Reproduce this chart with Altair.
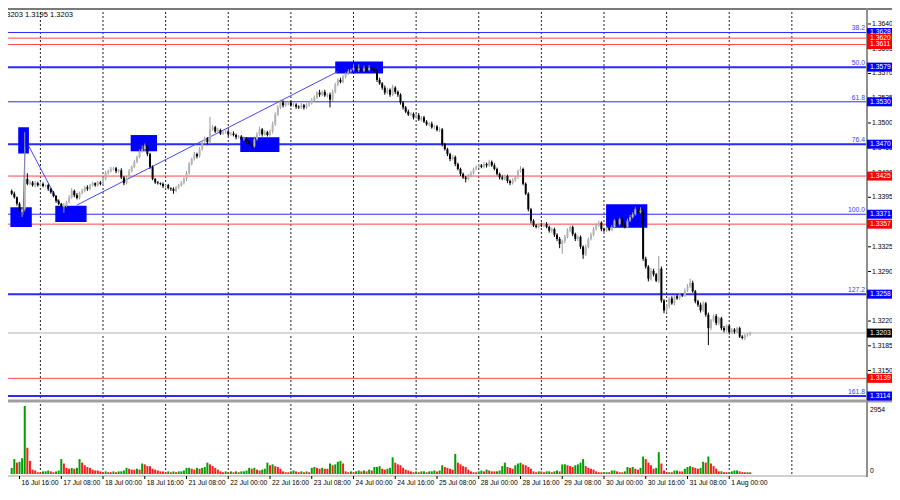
import altair as alt
import pandas as pd

# ---------------- data ----------------
FIRST_INDEX = -11          # bar index of first visible H1 bar (0 = 17 Jul 00:00)
FIRST_OPEN = 1.3404
CLOSE = [
    1.3400, 1.3395, 1.3386, 1.3374, 1.3378, 1.3421, 1.3414, 1.3416, 1.3412, 1.3415, 1.3412, 1.3414,
    1.3411, 1.3412, 1.3407, 1.3402, 1.3397, 1.3390, 1.3386, 1.3381, 1.3384, 1.3388, 1.3395, 1.3404,
    1.3398, 1.3394, 1.3401, 1.3404, 1.3409, 1.3407, 1.3412, 1.3415, 1.3412, 1.3416, 1.3414, 1.3421,
    1.3429, 1.3432, 1.3435, 1.3436, 1.3432, 1.3433, 1.3423, 1.3415, 1.3423, 1.3432, 1.3438, 1.3445,
    1.3452, 1.3460, 1.3463, 1.3468, 1.3456, 1.3438, 1.3421, 1.3416, 1.3415, 1.3414, 1.3411, 1.3412,
    1.3408, 1.3407, 1.3404, 1.3409, 1.3412, 1.3415, 1.3421, 1.3429, 1.3442, 1.3449, 1.3456, 1.3453,
    1.3463, 1.3474, 1.3478, 1.3473, 1.3491, 1.3494, 1.3488, 1.3490, 1.3485, 1.3487, 1.3488, 1.3484,
    1.3485, 1.3483, 1.3480, 1.3481, 1.3477, 1.3478, 1.3474, 1.3470, 1.3467, 1.3477, 1.3484, 1.3491,
    1.3484, 1.3487, 1.3483, 1.3488, 1.3498, 1.3512, 1.3522, 1.3529, 1.3525, 1.3528, 1.3529, 1.3525,
    1.3526, 1.3523, 1.3522, 1.3525, 1.3522, 1.3526, 1.3528, 1.3532, 1.3536, 1.3543, 1.3540, 1.3544,
    1.3539, 1.3540, 1.3533, 1.3544, 1.3554, 1.3561, 1.3558, 1.3565, 1.3570, 1.3573, 1.3575, 1.3578,
    1.3575, 1.3577, 1.3574, 1.3577, 1.3575, 1.3578, 1.3575, 1.3574, 1.3561, 1.3556, 1.3550, 1.3543,
    1.3547, 1.3540, 1.3550, 1.3544, 1.3540, 1.3529, 1.3522, 1.3516, 1.3512, 1.3513, 1.3508, 1.3511,
    1.3505, 1.3508, 1.3502, 1.3498, 1.3499, 1.3494, 1.3495, 1.3490, 1.3491, 1.3470, 1.3463, 1.3456,
    1.3449, 1.3452, 1.3442, 1.3435, 1.3428, 1.3423, 1.3421, 1.3425, 1.3429, 1.3435, 1.3438, 1.3440,
    1.3438, 1.3442, 1.3440, 1.3445, 1.3440, 1.3435, 1.3428, 1.3423, 1.3421, 1.3425, 1.3418, 1.3415,
    1.3419, 1.3423, 1.3432, 1.3435, 1.3414, 1.3400, 1.3378, 1.3362, 1.3355, 1.3353, 1.3356, 1.3355,
    1.3357, 1.3353, 1.3348, 1.3350, 1.3342, 1.3336, 1.3329, 1.3333, 1.3339, 1.3348, 1.3353, 1.3343,
    1.3336, 1.3339, 1.3325, 1.3314, 1.3325, 1.3336, 1.3342, 1.3350, 1.3355, 1.3359, 1.3350, 1.3348,
    1.3352, 1.3349, 1.3353, 1.3362, 1.3357, 1.3364, 1.3356, 1.3353, 1.3362, 1.3367, 1.3371, 1.3378,
    1.3374, 1.3376, 1.3308, 1.3297, 1.3280, 1.3291, 1.3286, 1.3277, 1.3294, 1.3249, 1.3235, 1.3241,
    1.3252, 1.3245, 1.3255, 1.3252, 1.3257, 1.3256, 1.3263, 1.3269, 1.3274, 1.3262, 1.3248, 1.3243,
    1.3235, 1.3245, 1.3229, 1.3210, 1.3221, 1.3227, 1.3217, 1.3224, 1.3210, 1.3207, 1.3213, 1.3204,
    1.3208, 1.3205, 1.3210, 1.3198, 1.3196, 1.3200, 1.3201, 1.3203,
]
UP_PIPS = [
    2, 3, 1, 2, 3, 66, 8, 3, 2, 3, 2, 2,
    2, 1, 2, 1, 2, 1, 2, 1, 3, 2, 3, 4,
    2, 3, 2, 3, 2, 3, 2, 2, 1, 2, 2, 3,
    3, 2, 3, 2, 2, 2, 3, 2, 2, 3, 2, 3,
    2, 3, 5, 3, 2, 2, 2, 1, 2, 1, 2, 1,
    2, 1, 2, 2, 2, 3, 2, 3, 3, 2, 3, 2,
    3, 2, 3, 2, 18, 3, 2, 3, 2, 2, 3, 2,
    2, 3, 2, 2, 2, 3, 2, 2, 3, 4, 3, 4,
    2, 3, 2, 3, 4, 3, 3, 4, 3, 2, 2, 2,
    3, 2, 2, 3, 2, 2, 2, 3, 3, 2, 4, 2,
    3, 2, 3, 3, 3, 2, 3, 3, 2, 3, 2, 5,
    3, 6, 2, 4, 3, 4, 3, 3, 2, 3, 2, 3,
    3, 2, 4, 2, 2, 2, 2, 2, 3, 2, 2, 2,
    3, 2, 2, 2, 2, 3, 2, 2, 3, 2, 2, 2,
    2, 3, 2, 2, 2, 2, 2, 3, 3, 2, 2, 2,
    2, 3, 2, 3, 2, 3, 2, 2, 3, 2, 2, 2,
    3, 2, 2, 4, 2, 2, 2, 2, 2, 2, 2, 3,
    2, 3, 2, 2, 2, 2, 3, 2, 3, 3, 2, 2,
    2, 2, 2, 2, 3, 2, 3, 3, 3, 3, 2, 2,
    2, 3, 3, 2, 3, 2, 3, 2, 3, 3, 3, 3,
    2, 5, 2, 3, 2, 4, 3, 2, 18, 3, 2, 3,
    2, 3, 2, 3, 3, 2, 3, 3, 6, 3, 2, 2,
    3, 3, 2, 3, 2, 2, 3, 2, 2, 3, 2, 2,
    2, 2, 2, 2, 2, 2, 2, 2,
]
DN_PIPS = [
    2, 2, 3, 5, 7, 3, 2, 2, 2, 3, 2, 2,
    2, 2, 3, 2, 2, 3, 2, 2, 8, 3, 2, 2,
    3, 2, 2, 2, 2, 3, 2, 2, 2, 2, 2, 2,
    2, 2, 2, 2, 3, 2, 2, 3, 2, 2, 2, 2,
    2, 2, 2, 3, 3, 3, 2, 2, 2, 2, 3, 2,
    2, 3, 4, 2, 2, 2, 2, 3, 2, 2, 2, 3,
    2, 2, 2, 3, 2, 2, 2, 3, 2, 2, 2, 3,
    2, 2, 3, 2, 2, 2, 3, 2, 4, 2, 2, 2,
    3, 2, 2, 2, 3, 2, 2, 2, 3, 2, 3, 2,
    2, 3, 2, 2, 3, 2, 3, 2, 2, 2, 3, 2,
    2, 3, 11, 2, 2, 2, 2, 2, 2, 2, 2, 2,
    2, 3, 2, 2, 2, 2, 2, 2, 3, 2, 3, 3,
    2, 3, 2, 3, 3, 3, 3, 2, 2, 2, 3, 2,
    2, 3, 2, 2, 3, 2, 3, 2, 3, 3, 2, 3,
    3, 2, 3, 2, 3, 2, 5, 2, 2, 2, 2, 2,
    2, 2, 3, 2, 2, 2, 2, 3, 2, 2, 3, 3,
    2, 2, 2, 2, 2, 2, 3, 4, 2, 2, 2, 2,
    2, 2, 3, 3, 3, 3, 6, 14, 3, 2, 2, 3,
    3, 3, 3, 6, 2, 2, 2, 2, 2, 2, 3, 2,
    2, 2, 2, 2, 2, 2, 3, 2, 2, 2, 2, 2,
    2, 2, 3, 3, 4, 3, 3, 2, 3, 3, 4, 3,
    3, 2, 3, 2, 2, 2, 2, 2, 2, 2, 3, 3,
    3, 2, 3, 24, 3, 2, 3, 3, 3, 3, 2, 3,
    2, 3, 2, 2, 2, 3, 2, 2,
]
VOLUME = [
    265, 646, 493, 531, 684, 2954, 1140, 570, 190, 152, 76,
    72, 113, 118, 152, 114, 76, 110, 150, 646, 456, 266, 229, 265, 228, 270, 647, 494, 380, 304, 266, 190, 152, 150, 114,
    76, 114, 78, 75, 112, 76, 113, 115, 152, 266, 228, 190, 188, 229, 190, 456, 418, 342, 340, 228, 190, 152, 114, 112,
    76, 114, 76, 113, 77, 112, 115, 152, 266, 268, 228, 190, 266, 229, 267, 304, 494, 418, 342, 266, 190, 114, 76, 113,
    76, 114, 75, 113, 76, 114, 116, 152, 266, 228, 266, 190, 152, 190, 228, 494, 380, 418, 342, 304, 228, 114, 76, 74,
    114, 152, 113, 76, 114, 76, 113, 76, 266, 304, 266, 228, 266, 228, 226, 456, 380, 418, 532, 570, 456, 114, 76, 114,
    76, 114, 152, 113, 152, 114, 190, 152, 304, 306, 342, 228, 190, 228, 266, 722, 494, 418, 380, 266, 190, 152, 114, 76,
    114, 76, 114, 116, 76, 114, 116, 152, 114, 152, 380, 304, 266, 228, 190, 874, 494, 418, 342, 304, 190, 114, 76, 74,
    114, 152, 114, 190, 152, 114, 112, 116, 152, 342, 494, 304, 266, 228, 380, 456, 494, 418, 380, 304, 228, 114, 76, 114,
    114, 76, 114, 116, 76, 114, 152, 114, 418, 420, 380, 342, 304, 380, 418, 494, 646, 342, 266, 228, 190, 114, 76, 74,
    76, 78, 75, 152, 154, 114, 76, 74, 114, 304, 266, 304, 228, 190, 266, 760, 646, 494, 380, 228, 266, 950, 456, 152,
    76, 78, 74, 152, 154, 114, 112, 228, 304, 342, 304, 266, 228, 266, 532, 494, 760, 456, 342, 228, 114, 116, 76, 74,
    76, 114, 152, 154, 114, 76, 74, 78, 72,
]
VOL_MAX = 2954

DAY_STARTS = [0, 24, 48, 72, 96, 120, 144, 168, 192, 216, 240, 264, 288]
DATE_TICKS = [-8, 8, 24, 40, 56, 72, 88, 104, 120, 136, 152, 168, 184, 200, 216, 232, 248, 264]
DATE_LABELS = ["16 Jul 16:00", "17 Jul 08:00", "18 Jul 00:00", "18 Jul 16:00", "21 Jul 08:00",
               "22 Jul 00:00", "22 Jul 16:00", "23 Jul 08:00", "24 Jul 00:00", "24 Jul 16:00",
               "25 Jul 08:00", "28 Jul 00:00", "28 Jul 16:00", "29 Jul 08:00", "30 Jul 00:00",
               "30 Jul 16:00", "31 Jul 08:00", "1 Aug 00:00"]

FIB_LEVELS = [1.3628, 1.3579, 1.3530, 1.3470, 1.3371, 1.3258, 1.3114]
FIB_TEXT = ["38.2", "50.0", "61.8", "76.4", "100.0", "127.2", "161.8"]
FIB_WIDTH = [1, 2, 1, 2, 1, 2, 2]
RED_LEVELS = [1.3620, 1.3611, 1.3425, 1.3357, 1.3139]
LAST_PRICE = 1.3203
AXIS_TICKS = [1.3640, 1.3605, 1.3570, 1.3535, 1.3500, 1.3465, 1.3430, 1.3395,
              1.3325, 1.3290, 1.3255, 1.3220, 1.3185, 1.3150]

BOX_X1 = [-11.5, -8.5, 5.7, 34.6, 76.6, 113.0, 216.8]
BOX_X2 = [-3.3, -4.4, 17.7, 44.7, 91.6, 131.3, 232.6]
BOX_P1 = [1.3353, 1.3457, 1.3360, 1.3460, 1.3459, 1.3570, 1.3352]
BOX_P2 = [1.3381, 1.3494, 1.3383, 1.3483, 1.3480, 1.3587, 1.3385]

LINE_X1 = [-6.6, -4.4, 14.0]
LINE_X2 = [-5.9, 7.2, 114.1]
LINE_P1 = [1.3370, 1.3467, 1.3384]
LINE_P2 = [1.3467, 1.3386, 1.3573]

HEADER = "1.3203 1.3195 1.3203"

assert len(CLOSE) == len(UP_PIPS) == len(DN_PIPS) == len(VOLUME), (len(CLOSE), len(UP_PIPS), len(DN_PIPS), len(VOLUME))

# ---------------- tables ----------------
idx = list(range(FIRST_INDEX, FIRST_INDEX + len(CLOSE)))
opens = [FIRST_OPEN] + CLOSE[:-1]
rows = []
prev_vol = None
for k, i in enumerate(idx):
    o, c = opens[k], CLOSE[k]
    bull = c > o
    v = VOLUME[k]
    vup = prev_vol is None or v > prev_vol
    prev_vol = v
    rows.append(dict(i=i, open=o, close=c,
                     high=max(o, c) + UP_PIPS[k] / 10000.0,
                     low=min(o, c) - DN_PIPS[k] / 10000.0,
                     body="#b4b4b4" if bull else "#000000",
                     wick="#9a9a9a" if bull else "#000000",
                     vol=v, vcol="#00a000" if vup else "#ff1c1c"))
candles = pd.DataFrame(rows)

fib = pd.DataFrame(dict(p=FIB_LEVELS, t=FIB_TEXT, w=FIB_WIDTH))
red = pd.DataFrame(dict(p=RED_LEVELS))
labels_box = pd.DataFrame(dict(
    p=FIB_LEVELS + RED_LEVELS + [LAST_PRICE],
    fill=["#0000ff"] * len(FIB_LEVELS) + ["#ff0000"] * len(RED_LEVELS) + ["#000000"],
))
labels_box["t"] = labels_box["p"].map(lambda v: f"{v:.4f}")
ticks = pd.DataFrame(dict(p=AXIS_TICKS, t=[f"{v:.4f}" for v in AXIS_TICKS]))
days = pd.DataFrame(dict(i=DAY_STARTS))
dates = pd.DataFrame(dict(i=DATE_TICKS, t=DATE_LABELS))
boxes = pd.DataFrame(dict(x1=BOX_X1, x2=BOX_X2, p1=BOX_P1, p2=BOX_P2))
lines = pd.DataFrame(dict(x1=LINE_X1, x2=LINE_X2, p1=LINE_P1, p2=LINE_P2))
last = pd.DataFrame(dict(p=[LAST_PRICE]))

# ---------------- geometry / styles ----------------
W, H = 858, 470
FONT = "Liberation Sans"
FS = 6.8
xs = alt.Scale(domain=[-10.5, 314.5], range=[0, W], nice=False, zero=False)
ps = alt.Scale(domain=[1.31112, 1.36626], range=[390, 0], nice=False, zero=False)
vs = alt.Scale(domain=[0, VOL_MAX], range=[466, 398], nice=False, zero=False)


def X(f):
    return alt.X(f, type="quantitative", scale=xs, axis=None)


def Y(f):
    return alt.Y(f, type="quantitative", scale=ps, axis=None)


base_one = pd.DataFrame(dict(a=[0]))

grid = alt.Chart(days).mark_rule(color="#222222", strokeDash=[2, 2], strokeWidth=1).encode(
    x=X("i"), y=alt.value(0), y2=alt.value(468))

fib_rules = alt.Chart(fib).mark_rule(color="#2a2aff").encode(
    y=Y("p"), x=alt.value(0), x2=alt.value(W),
    strokeWidth=alt.StrokeWidth("w:Q", scale=None))
red_rules = alt.Chart(red).mark_rule(color="#ff4646", strokeWidth=1).encode(
    y=Y("p"), x=alt.value(0), x2=alt.value(W))
last_rule = alt.Chart(last).mark_rule(color="#d8d8d8", strokeWidth=2).encode(
    y=Y("p"), x=alt.value(0), x2=alt.value(W))

box_rects = alt.Chart(boxes).mark_rect(color="#0000ff", clip=True).encode(
    x=X("x1"), x2="x2", y=Y("p1"), y2="p2")
trend = alt.Chart(lines).mark_rule(color="#4646ff", strokeWidth=1, clip=True).encode(
    x=X("x1"), x2="x2", y=Y("p1"), y2="p2")

wicks = alt.Chart(candles).mark_rule(strokeWidth=1, clip=True).encode(
    x=X("i"), y=Y("low"), y2="high", color=alt.Color("wick:N", scale=None))
bodies = alt.Chart(candles).mark_bar(size=2, clip=True).encode(
    x=X("i"), y=Y("open"), y2="close", color=alt.Color("body:N", scale=None))

vol_bars = alt.Chart(candles).mark_bar(size=2, clip=True).encode(
    x=X("i"), y=alt.Y("vol:Q", scale=vs, axis=None), y2=alt.datum(0),
    color=alt.Color("vcol:N", scale=None))

top_line = alt.Chart(base_one).mark_rule(color="#7a7a7a", strokeWidth=2).encode(
    x=alt.value(0), x2=alt.value(W + 26), y=alt.value(1))
sep_line = alt.Chart(base_one).mark_rule(color="#a0a0a0", strokeWidth=3).encode(
    x=alt.value(0), x2=alt.value(W + 26), y=alt.value(393))
bottom_line = alt.Chart(base_one).mark_rule(color="#a0a0a0", strokeWidth=1).encode(
    x=alt.value(0), x2=alt.value(W + 1), y=alt.value(468))
axis_line = alt.Chart(base_one).mark_rule(color="#909090", strokeWidth=2).encode(
    x=alt.value(W + 1), y=alt.value(0), y2=alt.value(469))

tick_marks = alt.Chart(ticks).mark_rule(color="#000000", strokeWidth=1).encode(
    y=Y("p"), x=alt.value(W + 2), x2=alt.value(W + 5))
tick_text = alt.Chart(ticks).mark_text(align="left", baseline="middle", font=FONT,
                                       fontSize=FS, color="#000000").encode(
    y=Y("p"), x=alt.value(W + 6), text="t:N")

lbl_rect = alt.Chart(labels_box).mark_rect(yOffset=-4.5, y2Offset=4.5).encode(
    y=Y("p"), y2="p", x=alt.value(W + 1), x2=alt.value(W + 27),
    color=alt.Color("fill:N", scale=None))
lbl_text = alt.Chart(labels_box).mark_text(align="left", baseline="middle", font=FONT,
                                           fontSize=FS, color="#ffffff").encode(
    y=Y("p"), x=alt.value(W + 4), text="t:N")

fib_text = alt.Chart(fib).mark_text(align="right", baseline="bottom", font=FONT,
                                    fontSize=FS, color="#3c3cff", dy=-1).encode(
    y=Y("p"), x=alt.value(W - 1), text="t:N")

vol_text = alt.Chart(pd.DataFrame(dict(t=[str(VOL_MAX), "0"], yy=[402, 463]))).mark_text(
    align="left", baseline="middle", font=FONT, fontSize=FS, color="#000000").encode(
    x=alt.value(W + 4), y=alt.Y("yy:Q", scale=None), text="t:N")

date_ticks = alt.Chart(dates).mark_rule(color="#000000", strokeWidth=1).encode(
    x=X("i"), y=alt.value(H - 2), y2=alt.value(H + 1))
date_text = alt.Chart(dates).mark_text(align="left", baseline="middle", font=FONT,
                                       fontSize=FS, color="#000000", dx=2).encode(
    x=X("i"), y=alt.value(H + 5), text="t:N")

header = alt.Chart(base_one).mark_text(align="left", baseline="top", font=FONT,
                                       fontSize=7.5, color="#000000").encode(
    x=alt.value(-8), y=alt.value(3), text=alt.value(HEADER))

chart = alt.layer(
    grid, fib_rules, red_rules, last_rule, box_rects, trend, wicks, bodies, vol_bars,
    top_line, sep_line, bottom_line, axis_line, tick_marks, tick_text,
    lbl_rect, lbl_text, fib_text, vol_text, date_ticks, date_text, header,
).resolve_scale(y="independent").properties(
    width=W, height=H,
    autosize=alt.AutoSizeParams(type="none"),
    padding={"left": 0, "top": 0, "right": 26, "bottom": 10},
    background="#ffffff",
).configure_view(stroke=None)

chart.save("out.html", embed_options={"renderer": "svg", "actions": False})
